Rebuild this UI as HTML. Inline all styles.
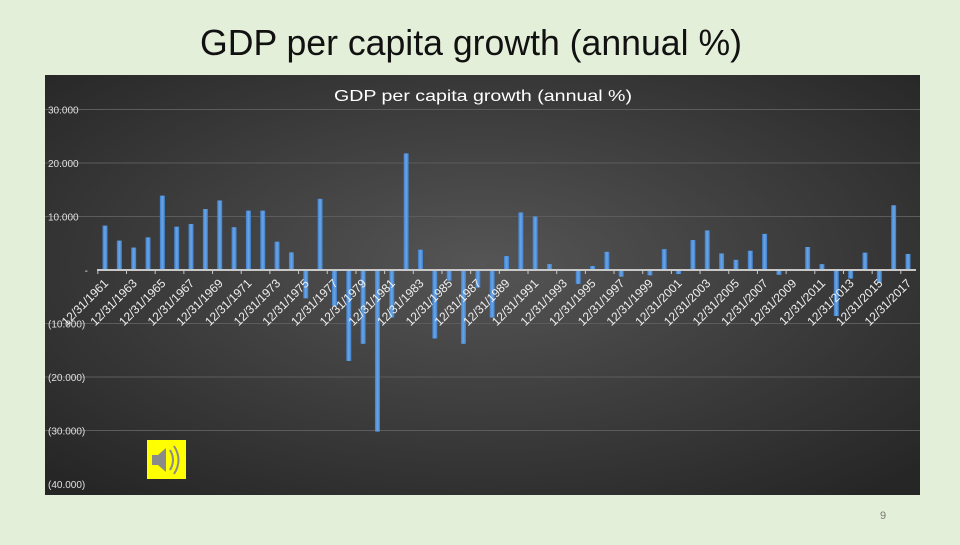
<!DOCTYPE html>
<html><head><meta charset="utf-8"><style>
body{margin:0;width:960px;height:540px;background:#e4efda;overflow:hidden;font-family:"Liberation Sans",sans-serif}
</style></head><body>
<svg width="960" height="540" xmlns="http://www.w3.org/2000/svg">
<defs>
<radialGradient id="bg" cx="0.5" cy="0.45" r="0.7">
<stop offset="0" stop-color="#555555"/><stop offset="1" stop-color="#262626"/>
</radialGradient>
<linearGradient id="bar" x1="0" x2="1"><stop offset="0" stop-color="#3f7fcc"/><stop offset="0.5" stop-color="#6aa6e6"/><stop offset="1" stop-color="#3f7fcc"/></linearGradient>
</defs>
<text x="471" y="55" text-anchor="middle" font-size="36" textLength="542" lengthAdjust="spacingAndGlyphs" fill="#111">GDP per capita growth (annual %)</text>
<rect x="45" y="75" width="875" height="420" fill="url(#bg)"/>
<text x="483" y="101" text-anchor="middle" font-size="16" textLength="298" lengthAdjust="spacingAndGlyphs" fill="#fff">GDP per capita growth (annual %)</text>
<g id="grid"></g><g id="ylab"></g><g id="bars"></g><g id="xlab"></g>
<g>
<rect x="147" y="440" width="39" height="39" fill="#ffff00"/>
<path d="M152 455h6l8-7v24l-8-7h-6z" fill="#8a8a8a"/>
<path d="M170 450q6 10 0 20M174 446q9 14 0 28" stroke="#8a8a8a" stroke-width="2" fill="none"/>
</g>
<text x="883" y="519" text-anchor="middle" font-size="11" fill="#777">9</text>
</svg>
<script>
const years=[];for(let y=1961;y<=2017;y++)years.push(y);
const values=[8.3,5.5,4.2,6.1,13.9,8.1,8.6,11.4,13.0,8.0,11.1,11.1,5.3,3.3,-5.3,13.3,-6.7,-17,-13.8,-30.2,-8.9,21.8,3.8,-12.8,-2,-13.8,-3.3,-8.9,2.6,10.75,10,1.1,0,-2.6,0.75,3.4,-1.25,0.1,-1,3.9,-0.75,5.6,7.4,3.1,1.9,3.6,6.75,-0.9,0,4.3,1.1,-8.6,-1.6,3.25,-2.3,12.1,3.0];
const yTicks=[30,20,10,0,-10,-20,-30,-40];
const yTickLabels=["30.000","20.000","10.000","-","(10.000)","(20.000)","(30.000)","(40.000)"];
const NS="http://www.w3.org/2000/svg";
const y0=270,ppu=5.35;
function ys(v){return y0-v*ppu;}
const x0=105,step=(908-105)/(years.length-1);
function xs(i){return x0+i*step;}
function mk(t,a,p){const e=document.createElementNS(NS,t);for(const k in a)e.setAttribute(k,a[k]);p.appendChild(e);return e;}
const grid=document.getElementById('grid'),yl=document.getElementById('ylab'),bars=document.getElementById('bars'),xl=document.getElementById('xlab');
yTicks.forEach((t,i)=>{
 if(t!==0&&t>-40){const l=mk('line',{x1:45,x2:920,y1:ys(t),y2:ys(t),stroke:'#5c5c5c','stroke-width':1},grid);
 
 }
 const tx=mk('text',{x:t===0?88:48,y:ys(t)+4,'font-size':10,fill:'#e0e0e0','text-anchor':t===0?'end':'start'},yl);
 tx.textContent=yTickLabels[i];
 
 
});
values.forEach((v,i)=>{
 const r=mk('rect',{x:xs(i)-2.5,y:Math.min(ys(v),y0),width:5,height:Math.abs(ys(v)-y0),fill:'url(#bar)'},bars);
 
 
});
const ax=mk('line',{x1:97,x2:916,y1:y0,y2:y0,stroke:'#c8c8c8','stroke-width':2},xl);


years.forEach((y,i)=>{
 if(i%2===0){
  const tk=mk('line',{x1:xs(i)-step/2,x2:xs(i)-step/2,y1:y0,y2:y0+4,stroke:'#c8c8c8'},xl);
  
  
  const px=xs(i)+4,py=y0+14;
  const t=mk('text',{x:px,y:py,'font-size':12,fill:'#f0f0f0','text-anchor':'end',transform:`rotate(-45 ${px} ${py})`},xl);
  t.textContent='12/31/'+y;
  
  
 }
});
</script>
</body></html>
